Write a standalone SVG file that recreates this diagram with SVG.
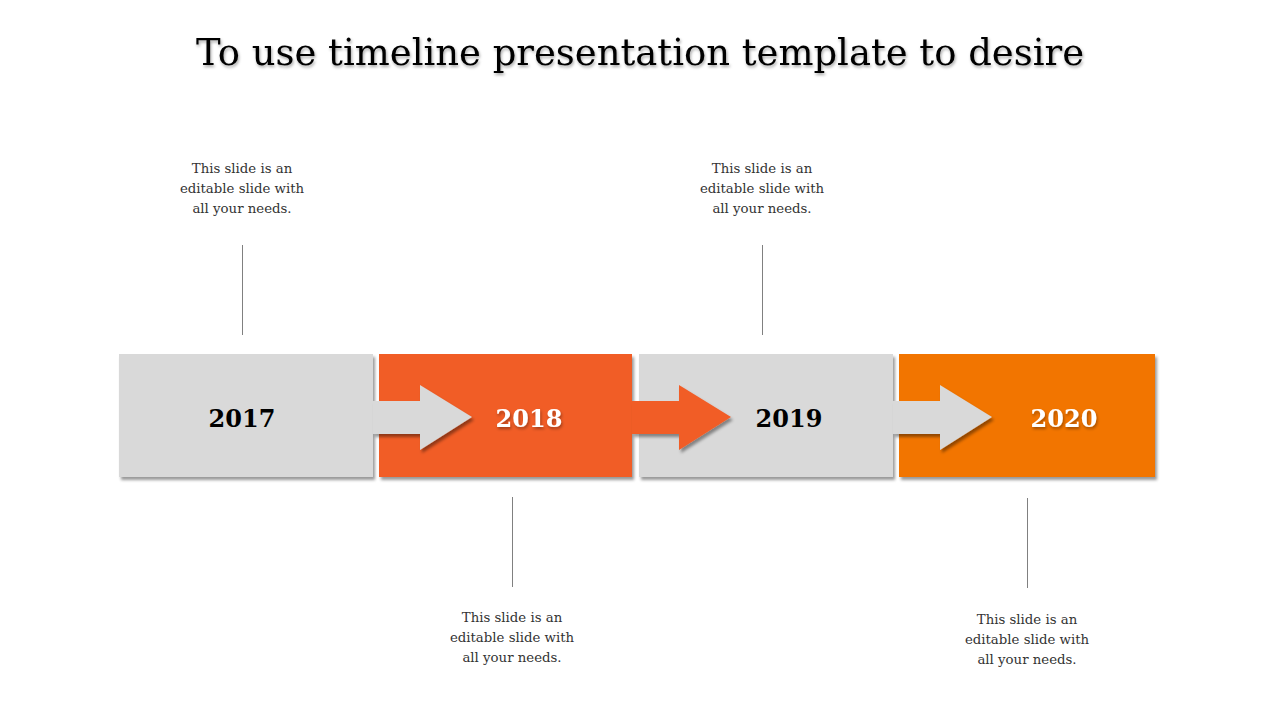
<svg xmlns="http://www.w3.org/2000/svg" width="1280" height="720" viewBox="0 0 1280 720">
<defs>
<style>
.title{font-family:"DejaVu Serif","Liberation Serif",serif;font-size:38px;fill:#000;text-anchor:middle}
.year{font-family:"DejaVu Serif","Liberation Serif",serif;font-size:24px;font-weight:bold;text-anchor:middle}
.desc{font-family:"DejaVu Serif","Liberation Serif",serif;font-size:13.3px;fill:#333;text-anchor:middle}
.lead{stroke:#808080;stroke-width:1}
.gray{fill:#D9D9D9}
</style>
<filter id="sh" x="-10%" y="-10%" width="130%" height="140%">
<feDropShadow dx="2" dy="3" stdDeviation="1.5" flood-color="#000" flood-opacity="0.4"/>
</filter>
<filter id="tsh" x="-5%" y="-20%" width="110%" height="150%">
<feDropShadow dx="1" dy="2" stdDeviation="1.5" flood-color="#000" flood-opacity="0.35"/>
</filter>
</defs>
<rect width="1280" height="720" fill="#fff"/>
<text class="title" x="640" y="65" filter="url(#tsh)" textLength="888" lengthAdjust="spacingAndGlyphs">To use timeline presentation template to desire</text>

<g id="node-2017">
<rect class="gray" x="119" y="354" width="254" height="123" filter="url(#sh)"/>
<text class="year" x="242" y="427" fill="#000">2017</text>
</g>
<g id="node-2018">
<rect x="379" y="354" width="253" height="123" fill="#F15D27" filter="url(#sh)"/>
</g>
<g id="node-2019">
<rect class="gray" x="639" y="354" width="254" height="123" filter="url(#sh)"/>
</g>
<g id="node-2020">
<rect x="899" y="354" width="256" height="123" fill="#F27405" filter="url(#sh)"/>
</g>

<g id="connectors">
<path class="gray" d="M373 401 H420 V385 L472 417 L420 450 V434 H373 Z" filter="url(#sh)"/>
<path d="M632 401 H679 V385 L731 417 L679 450 V434 H632 Z" fill="#F15D27" filter="url(#sh)"/>
<path class="gray" d="M893 401 H940 V385 L992 417 L940 450 V434 H893 Z" filter="url(#sh)"/>
<line class="lead" x1="242.5" y1="245" x2="242.5" y2="335"/>
<line class="lead" x1="762.5" y1="245" x2="762.5" y2="335"/>
<line class="lead" x1="512.5" y1="497" x2="512.5" y2="587"/>
<line class="lead" x1="1027.5" y1="498" x2="1027.5" y2="588"/>
</g>

<g id="labels-years">
<text class="year" x="529" y="427" fill="#fff" filter="url(#tsh)">2018</text>
<text class="year" x="789" y="427" fill="#000">2019</text>
<text class="year" x="1064" y="427" fill="#fff" filter="url(#tsh)">2020</text>
</g>

<g id="desc-2017">
<text class="desc" x="242" y="173">This slide is an</text>
<text class="desc" x="242" y="193">editable slide with</text>
<text class="desc" x="242" y="213">all your needs.</text>
</g>
<g id="desc-2018">
<text class="desc" x="512" y="622">This slide is an</text>
<text class="desc" x="512" y="642">editable slide with</text>
<text class="desc" x="512" y="662">all your needs.</text>
</g>
<g id="desc-2019">
<text class="desc" x="762" y="173">This slide is an</text>
<text class="desc" x="762" y="193">editable slide with</text>
<text class="desc" x="762" y="213">all your needs.</text>
</g>
<g id="desc-2020">
<text class="desc" x="1027" y="624">This slide is an</text>
<text class="desc" x="1027" y="644">editable slide with</text>
<text class="desc" x="1027" y="664">all your needs.</text>
</g>
</svg>
